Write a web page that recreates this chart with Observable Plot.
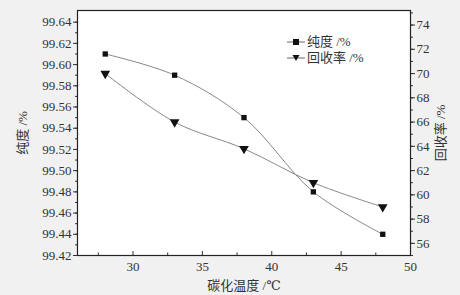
<!DOCTYPE html>
<html><head><meta charset="utf-8">
<script src="https://cdn.jsdelivr.net/npm/d3@7"></script>
<script src="https://cdn.jsdelivr.net/npm/@observablehq/plot@0.6"></script>
<style>
body{margin:0;background:#f1f1f1;}
#wrap{position:relative;width:460px;height:295px;}
#legend{position:absolute;left:287px;top:34px;font-size:13px;color:#333;line-height:16px;}
#legend div{display:flex;align-items:center;}
#legend svg{margin-right:2px;}
</style></head><body>
<div id="wrap"><div id="legend"></div></div>
<script>
const temps = [28, 33, 38, 43, 48];
const purity = [99.61, 99.59, 99.55, 99.48, 99.44];
const recovery = [70, 66, 63.8, 61, 59];
const xTicks = [30, 35, 40, 45, 50];
const xMinor = [27.5, 32.5, 37.5, 42.5, 47.5];
const pTicks = [99.42, 99.44, 99.46, 99.48, 99.50, 99.52, 99.54, 99.56, 99.58, 99.60, 99.62, 99.64];
const rTicks = [56, 58, 60, 62, 64, 66, 68, 70, 72, 74];
const seriesNames = ["纯度 /%", "回收率 /%"];
const xLabel = "碳化温度 /℃";

const pDomain = [99.42, 99.651];
const rDomain = [55, 75.2];
const r2p = d3.scaleLinear().domain(rDomain).range(pDomain);

const pMinor = d3.range(0, 23).map(i => 99.42 + i * 0.01);
const rMinor = d3.range(55, 76, 1);

const pData = temps.map((t, i) => ({t, v: purity[i]}));
const rData = temps.map((t, i) => ({t, v: r2p(recovery[i])}));

const W = 460, H = 295, mt = 10, mb = 40, ml = 77, mr = 50;
const innerH = H - mt - mb;
const FONT = "'Liberation Serif', 'DejaVu Serif', 'Noto Sans CJK SC', serif";

const chart = Plot.plot({
  width: W, height: H,
  marginLeft: ml, marginRight: mr, marginTop: mt, marginBottom: mb,
  style: {fontSize: "13px", color: "#333", background: "transparent"},
  x: {domain: [26, 50]},
  y: {domain: pDomain},
  marks: [
    Plot.frame({fill: "white", stroke: "none"}),
    Plot.axisX({ticks: xTicks, tickSize: 0, tickPadding: 6, label: xLabel, labelAnchor: "center", labelArrow: "none", labelOffset: 34}),
    Plot.tickX(xTicks, {x: d => d, insetTop: innerH - 4, stroke: "#333"}),
    Plot.tickX(xMinor, {x: d => d, insetTop: innerH - 2.5, stroke: "#333"}),
    Plot.axisY({ticks: pTicks, tickSize: 4, tickPadding: 2, tickFormat: d3.format(".2f"), label: seriesNames[0], labelAnchor: "center", labelArrow: "none", labelOffset: 60}),
    Plot.axisY({ticks: pMinor, tickSize: 2, tickFormat: () => "", label: null}),
    Plot.axisY({anchor: "right", ticks: rTicks.map(r2p), tickSize: 4, tickPadding: 2, tickFormat: d => Math.round(r2p.invert(d)), label: seriesNames[1], labelAnchor: "center", labelArrow: "none", labelOffset: 34}),
    Plot.axisY({anchor: "right", ticks: rMinor.map(r2p), tickSize: 2, tickFormat: () => "", label: null}),
    Plot.frame({stroke: "#222", strokeWidth: 1.2}),
    Plot.line(pData, {x: "t", y: "v", curve: "catmull-rom", stroke: "#888", strokeWidth: 1}),
    Plot.line(rData, {x: "t", y: "v", curve: "catmull-rom", stroke: "#888", strokeWidth: 1}),
    Plot.dot(pData, {x: "t", y: "v", symbol: "square", r: 3, fill: "#111", stroke: "none"}),
    Plot.dot(rData, {x: "t", y: "v", symbol: "triangle", r: 3.6, rotate: 180, fill: "#111", stroke: "none"})
  ]
});
chart.style.fontFamily = FONT;
d3.select(chart).selectAll("text, g").attr("font-family", FONT).style("font-family", FONT);
document.getElementById("wrap").prepend(chart);

const lg = document.getElementById("legend");
lg.style.fontFamily = FONT;
const sq = '<svg width="18" height="10"><line x1="0" y1="5" x2="18" y2="5" stroke="#666"/><rect x="6" y="2" width="6" height="6" fill="#111"/></svg>';
const tr = '<svg width="18" height="10"><line x1="0" y1="5" x2="18" y2="5" stroke="#666"/><path d="M5.5,2L12.5,2L9,8Z" fill="#111"/></svg>';
lg.innerHTML = `<div>${sq}<span>${seriesNames[0]}</span></div><div>${tr}<span>${seriesNames[1]}</span></div>`;
</script>
</body></html>
